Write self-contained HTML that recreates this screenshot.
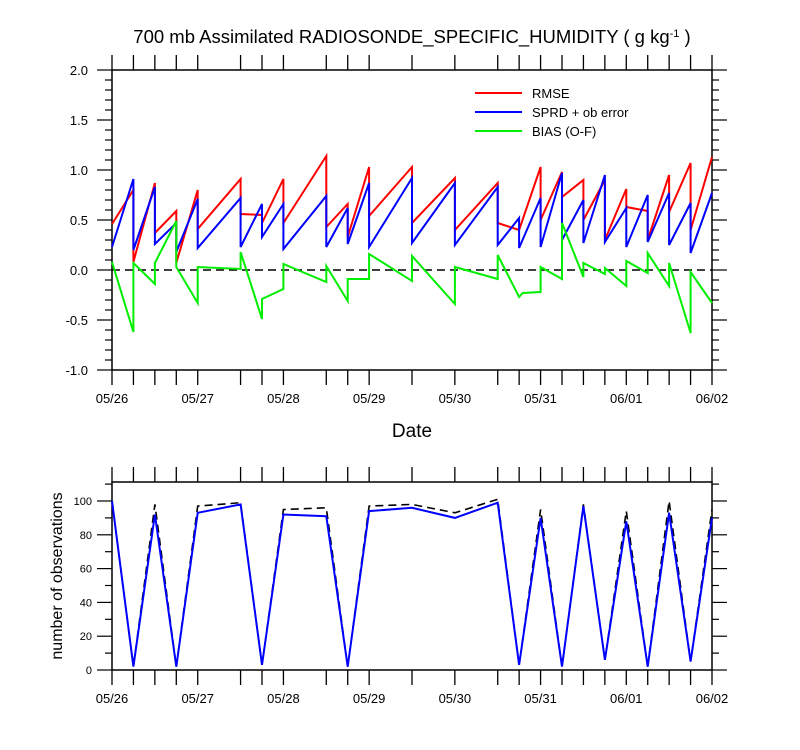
<!DOCTYPE html>
<html><head><meta charset="utf-8"><style>
body{margin:0;background:#fff}
svg{display:block;font-family:"Liberation Sans",sans-serif}
</style></head><body>
<svg id="c" width="800" height="750" xmlns="http://www.w3.org/2000/svg">
<text x="412" y="43" font-size="18.5" text-anchor="middle">700 mb Assimilated RADIOSONDE_SPECIFIC_HUMIDITY ( g kg<tspan dy="-6" font-size="11">-1</tspan><tspan dy="6"> )</tspan></text>
<g id="topG"></g><g id="botG"></g>
<text x="412" y="437" font-size="19" text-anchor="middle">Date</text>
<text transform="translate(62,576) rotate(-90)" font-size="16" text-anchor="middle">number of observations</text>
</svg>
<script>
// times in hours from 05/26 00Z; duplicate times represent jumps
const rmseT=[0,6,6,12,12,18,18,24,24,36,36,42,42,48,48,60,60,66,66,72,72,84,84,96,96,108,108,114,114,120,120,126,126,132,132,138,138,144,144,150,150,156,156,162,162,168];
const rmseV=[0.46,0.80,0.08,0.87,0.37,0.59,0.07,0.80,0.41,0.91,0.56,0.55,0.47,0.91,0.47,1.14,0.43,0.66,0.33,1.03,0.54,1.03,0.47,0.92,0.40,0.87,0.47,0.40,0.40,1.03,0.50,0.98,0.73,0.90,0.50,0.90,0.30,0.81,0.63,0.59,0.30,0.95,0.58,1.07,0.40,1.13];
const sprdT=[0,6,6,12,12,18,18,24,24,36,36,42,42,48,48,60,60,66,66,72,72,84,84,96,96,108,108,114,114,120,120,126,126,132,132,138,138,144,144,150,150,156,156,162,162,168];
const sprdV=[0.23,0.91,0.20,0.83,0.26,0.47,0.18,0.71,0.22,0.72,0.23,0.66,0.33,0.66,0.21,0.74,0.23,0.62,0.26,0.87,0.23,0.92,0.27,0.87,0.25,0.83,0.25,0.52,0.22,0.72,0.23,0.97,0.30,0.70,0.27,0.95,0.28,0.62,0.23,0.75,0.28,0.77,0.25,0.67,0.17,0.77];
const biasT=[0,6,6,12,12,18,18,24,24,36,36,42,42,48,48,60,60,66,66,72,72,84,84,96,96,108,108,114,115,120,120,126,126,132,132,138,138,144,144,150,150,156,156,162,162,168];
const biasV=[0.08,-0.62,0.07,-0.14,0.07,0.49,0.03,-0.33,0.03,0.01,0.18,-0.49,-0.29,-0.19,0.06,-0.12,0.04,-0.31,-0.09,-0.09,0.16,-0.11,0.14,-0.34,0.03,-0.09,0.15,-0.27,-0.23,-0.22,0.03,-0.09,0.47,-0.07,0.07,-0.04,0.02,-0.16,0.09,-0.03,0.17,-0.16,0.07,-0.63,-0.02,-0.33];
const obsT=[0,6,12,18,24,36,42,48,60,66,72,84,96,108,114,120,126,132,138,144,150,156,162,168];
const obsUsed=[100,2,92,2,93,98,3,92,91,2,94,96,90,99,3,90,2,97,6,88,2,93,5,90];
const obsAll=[100,2,98,2,97,99,3,95,96,2,97,98,93,101,3,95,2,98,6,94,2,100,5,95];
const dateLabels=["05/26","05/27","05/28","05/29","05/30","05/31","06/01","06/02"];
const topTicks=["2.0","1.5","1.0","0.5","0.0","-0.5","-1.0"];
const botTicks=["0","20","40","60","80","100"];

const NS="http://www.w3.org/2000/svg";
function mk(p,tag,at){const e=document.createElementNS(NS,tag);for(const k in at)e.setAttribute(k,at[k]);p.appendChild(e);return e;}
const X0=112,X1=712;
const xs=t=>X0+(X1-X0)*t/168;
const yT=v=>270-100*v;
const yB=v=>670-1.69*v;
const topG=document.getElementById('topG'),botG=document.getElementById('botG');

function frame(g,y0,y1){
  const r=mk(g,'rect',{x:X0,y:y0,width:X1-X0,height:y1-y0,fill:'none',stroke:'#000','stroke-width':1.5});
  
  
  obsT.forEach(t=>{
    const a=mk(g,'line',{x1:xs(t),x2:xs(t),y1:y1,y2:y1+15,stroke:'#000','stroke-width':1.3});
    
    
    const b=mk(g,'line',{x1:xs(t),x2:xs(t),y1:y0,y2:y0-15,stroke:'#000','stroke-width':1.3});
    
    
  });
  dateLabels.forEach((d,i)=>{
    const tx=mk(g,'text',{x:xs(i*24),y:y1+33,'font-size':13,'text-anchor':'middle'});
    tx.textContent=d;
    
    
  });
}
function line(g,T,V,ys,col,name,extra){
  const d=T.map((t,i)=>(i?'L':'M')+xs(t).toFixed(1)+','+ys(V[i]).toFixed(1)).join('');
  const p=mk(g,'path',Object.assign({d:d,fill:'none',stroke:col,'stroke-width':2,'stroke-linejoin':'miter'},extra||{}));
  
  
}
// top plot
frame(topG,70,370);
for(let i=0;i<=30;i++){
  const v=2-i*0.1,y=yT(v),maj=i%5==0,L=maj?15:7;
  mk(topG,'line',{x1:X0-L,x2:X0,y1:y,y2:y,stroke:'#000','stroke-width':1.2});
  mk(topG,'line',{x1:X1,x2:X1+L,y1:y,y2:y,stroke:'#000','stroke-width':1.2});
}
topTicks.forEach(s=>{
  const tx=mk(topG,'text',{x:88,y:yT(parseFloat(s))+5,'font-size':13,'text-anchor':'end'});
  tx.textContent=s;
  
  
});
const zl=mk(topG,'line',{x1:X0,x2:X1,y1:yT(0),y2:yT(0),stroke:'#000','stroke-width':1.5,'stroke-dasharray':'8,5'});


line(topG,rmseT,rmseV,yT,'#ff0000','rmse-line');
line(topG,sprdT,sprdV,yT,'#0000ff','sprd-line');
line(topG,biasT,biasV,yT,'#00ee00','bias-line');
[['RMSE','#ff0000',93],['SPRD + ob error','#0000ff',112],['BIAS (O-F)','#00ee00',131]].forEach(l=>{
  const g=mk(topG,'g',{});
  
  
  mk(g,'line',{x1:475,x2:522,y1:l[2],y2:l[2],stroke:l[1],'stroke-width':2});
  const t=mk(g,'text',{x:532,y:l[2]+5,'font-size':13});t.textContent=l[0];
});
// bottom plot
frame(botG,482,670);
for(let v=0;v<=110;v+=10){
  const y=yB(v),L=v%20==0?15:7;
  mk(botG,'line',{x1:X0-L,x2:X0,y1:y,y2:y,stroke:'#000','stroke-width':1.2});
  mk(botG,'line',{x1:X1,x2:X1+L,y1:y,y2:y,stroke:'#000','stroke-width':1.2});
}
botTicks.forEach(s=>{
  const tx=mk(botG,'text',{x:92,y:yB(+s)+4,'font-size':11,'text-anchor':'end'});
  tx.textContent=s;
  
  
});
line(botG,obsT,obsAll,yB,'#000','obs-total-line',{'stroke-dasharray':'8,5','stroke-width':1.6});
line(botG,obsT,obsUsed,yB,'#0000ff','obs-used-line');
</script>
</body></html>
